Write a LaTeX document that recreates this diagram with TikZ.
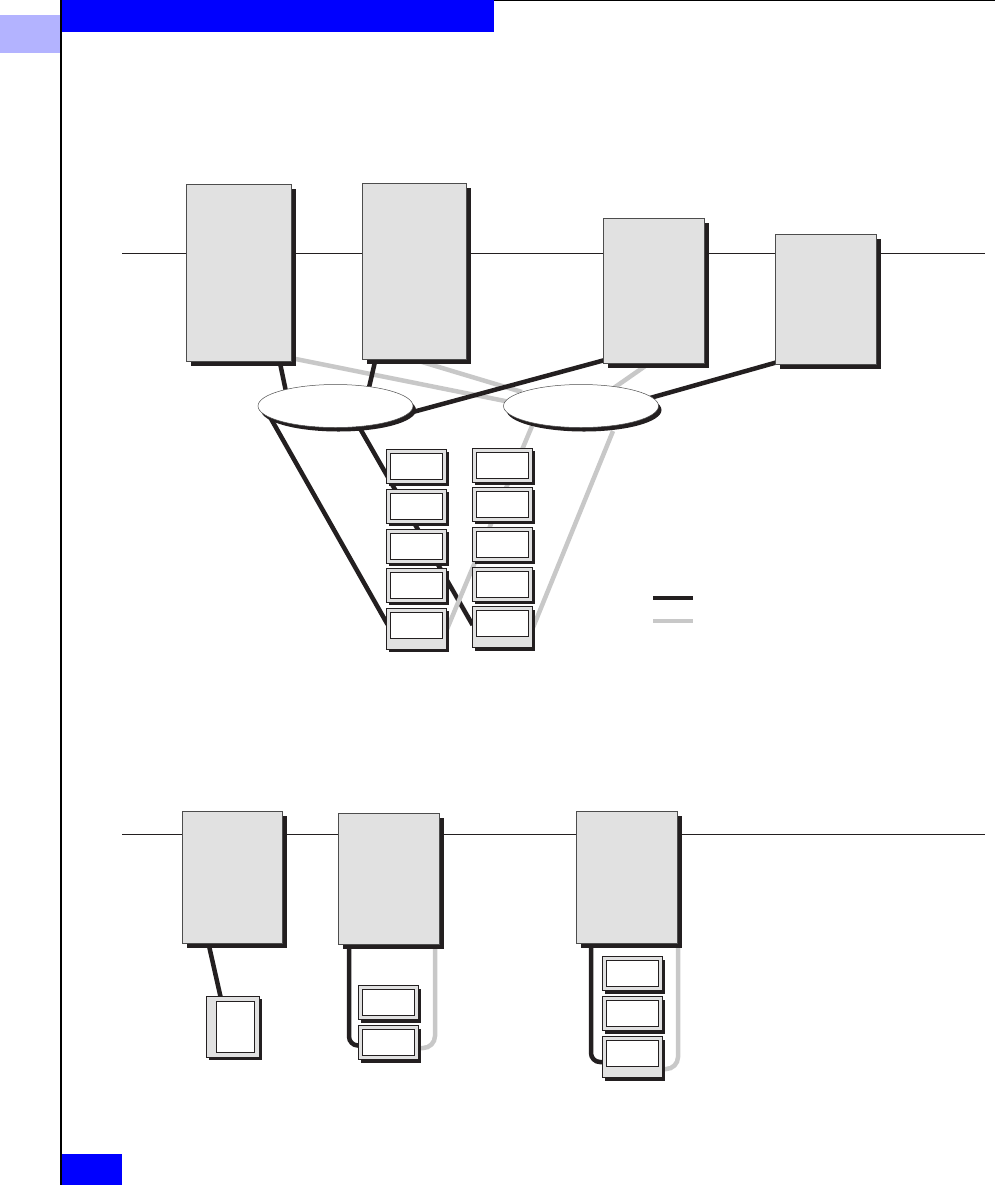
\documentclass[tikz,border=0pt]{standalone}
\usetikzlibrary{shapes.geometric,shadows}
\definecolor{blk}{HTML}{231F20}
\definecolor{gry}{HTML}{C8C8C8}
\definecolor{boxg}{HTML}{E1E1E1}
\definecolor{bord}{HTML}{4D4D4D}
\definecolor{hdrblue}{HTML}{0000FF}
\definecolor{tabblue}{HTML}{B3B3FF}
\pgfdeclarelayer{bg}
\pgfsetlayers{bg,main}
\tikzset{
  server/.style={rectangle, draw=bord, line width=0.7pt, fill=boxg, inner sep=0pt,
    drop shadow={shadow xshift=5pt, shadow yshift=-5pt, fill=blk, opacity=1}},
  hub/.style={ellipse, draw=bord, line width=0.5pt, fill=white, inner sep=0pt,
    minimum width=155pt, minimum height=43pt,
    drop shadow={shadow xshift=3pt, shadow yshift=-4pt, fill=blk, opacity=1}},
  devbase/.style={rectangle, draw=blk, line width=0.8pt, fill=boxg, inner sep=0pt,
    minimum width=60pt, minimum height=34pt,
    drop shadow={shadow xshift=3pt, shadow yshift=-3pt, fill=blk, opacity=1}},
  dev/.style={devbase, path picture={\draw[blk, line width=0.8pt, fill=white]
      ([shift={(4pt,-4pt)}]path picture bounding box.north west) rectangle
      ([shift={(-4pt,4pt)}]path picture bounding box.south east);}},
  devtall/.style={devbase, minimum height=41pt, path picture={\draw[blk, line width=0.8pt, fill=white]
      ([shift={(4pt,-4pt)}]path picture bounding box.north west) rectangle
      ([shift={(-4pt,11pt)}]path picture bounding box.south east);}},
  devvert/.style={devbase, minimum width=53pt, minimum height=61pt, path picture={\draw[blk, line width=0.8pt, fill=white]
      ([shift={(10pt,-5pt)}]path picture bounding box.north west) rectangle
      ([shift={(-5pt,5pt)}]path picture bounding box.south east);}},
  bline/.style={draw=blk, line width=4.5pt},
  gline/.style={draw=gry, line width=4.5pt},
  rule/.style={draw=blk, line width=0.9pt},
}
\begin{document}
\begin{tikzpicture}[x=1pt, y=-1pt]
\useasboundingbox (0,0) rectangle (995,1195);
% header
\fill[hdrblue] (60,0) rectangle (494,32);
\fill[tabblue] (0,15) rectangle (60,53);
\fill[hdrblue] (60,1154) rectangle (122,1185);
\draw[black, line width=2pt] (60.5,0) -- (60.5,1185);
\draw[black, line width=1pt] (494,0.5) -- (995,0.5);

% coordinates for rules and legend
\coordinate (r1a) at (122,253); \coordinate (r1b) at (985,253);
\coordinate (r2a) at (122,834); \coordinate (r2b) at (985,834);
\coordinate (lg1a) at (653,598); \coordinate (lg1b) at (693,598);
\coordinate (lg2a) at (653,621); \coordinate (lg2b) at (693,621);

% top servers
\node[server, minimum width=105pt, minimum height=177pt] (s1) at (238.5,272.5) {};
\node[server, minimum width=104pt, minimum height=176pt] (s2) at (414,271) {};
\node[server, minimum width=101pt, minimum height=145pt] (s3) at (653.5,290.5) {};
\node[server, minimum width=101pt, minimum height=130pt] (s4) at (825.5,299) {};

% hubs
\node[hub] (e1) at (335.5,406) {};
\node[hub] (e2) at (581,406) {};

% top devices
\node[dev] (L1) at (416,466) {};
\node[dev] (L2) at (416,506) {};
\node[dev] (L3) at (416,546) {};
\node[dev] (L4) at (416,585) {};
\node[devtall] (L5) at (416,628.5) {};
\node[dev] (R1) at (502,465) {};
\node[dev] (R2) at (502,504) {};
\node[dev] (R3) at (502,544) {};
\node[dev] (R4) at (502,584) {};
\node[devtall] (R5) at (502,627) {};

% bottom servers
\node[server, minimum width=100pt, minimum height=132pt] (b1) at (232,877) {};
\node[server, minimum width=101pt, minimum height=131pt] (b2) at (388.5,878.5) {};
\node[server, minimum width=101pt, minimum height=132pt] (b3) at (626.5,877) {};

% bottom devices
\node[devvert] (d1) at (232.5,1026.5) {};
\node[dev] (d21) at (388,1002.5) {};
\node[dev] (d22) at (388,1042.5) {};
\node[dev] (d31) at (632,973.5) {};
\node[dev] (d32) at (632,1013.5) {};
\node[devtall] (d33) at (632,1057) {};

\begin{pgfonlayer}{bg}
\draw[rule] (r1a) -- (r1b);
\draw[rule] (r2a) -- (r2b);
% top connectors
\draw[gline] ([shift={(54,-3)}]s1.south) -- ([shift={(-71,-4)}]e2.center);
\draw[gline] ([shift={(-4,-1)}]s2.south) -- ([shift={(-59,-14)}]e2.center);
\draw[gline] ([shift={(-3,-1)}]s3.south) -- ([shift={(27,-14)}]e2.center);
\draw[bline] ([shift={(40.5,-3)}]s1.south) -- ([shift={(-49,-12)}]e1.center);
\draw[bline] ([shift={(-38,-2)}]s2.south) -- ([shift={(32,-12)}]e1.center);
\draw[bline] ([shift={(1,-3)}]s3.south west) -- ([shift={(70,8)}]e1.center);
\draw[bline] ([shift={(2,-2)}]s4.south west) -- ([shift={(69,-8)}]e2.center);
\draw[bline] ([shift={(-65.5,11)}]e1.center) -- ([shift={(2,-4)}]L5.west);
\draw[bline] ([shift={(22,18)}]e1.center) -- ([shift={(1,-2)}]R5.west);
\draw[gline] ([shift={(-49,20)}]e2.center) -- ([shift={(0,2)}]L5.east);
\draw[gline] ([shift={(32,25)}]e2.center) -- ([shift={(0,2)}]R5.east);
% bottom connectors
\draw[bline] ([shift={(-24,-2)}]b1.south) -- ([shift={(-12,1)}]d1.north);
\draw[bline, rounded corners=9pt] ([shift={(-39.5,-2)}]b2.south) |- ([shift={(1,3)}]d22.west);
\draw[gline, rounded corners=12pt] ([shift={(46.5,-2)}]b2.south) |- ([shift={(0,5.5)}]d22.east);
\draw[bline, rounded corners=9pt] ([shift={(-35.5,-2)}]b3.south) |- ([shift={(1,5)}]d33.west);
\draw[gline, rounded corners=12pt] ([shift={(51.5,-2)}]b3.south) |- ([shift={(0,12)}]d33.east);
% legend
\draw[bline, line width=4pt] (lg1a) -- (lg1b);
\draw[gline, line width=4pt] (lg2a) -- (lg2b);
\end{pgfonlayer}
\end{tikzpicture}
\end{document}
